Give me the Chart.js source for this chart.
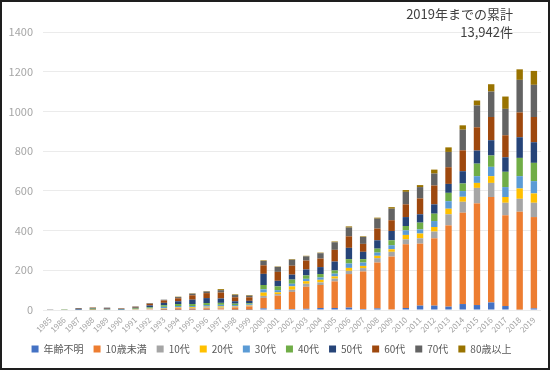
<!DOCTYPE html>
<html>
<head>
<meta charset="utf-8">
<script src="https://cdn.jsdelivr.net/npm/chart.js"></script>
<style>
    body { margin: 0; background: #fff; }
    #wrap {
        position: relative; width: 550px; height: 370px; box-sizing: border-box;
        border: 2px solid #1e1e1e; font-family: "Noto Sans CJK JP", sans-serif;
    }
    #total {
        position: absolute; right: 35px; top: 3px; text-align: right;
        font-size: 13px; line-height: 18px; color: #404040;
    }
    #ageChart { display: block; }
</style>
</head>
<body>
<div id="wrap">
    <canvas id="ageChart" width="546" height="366"></canvas>
    <div id="total">2019年までの累計<br>13,942件</div>
</div>
<script>
var years = [];
for (var y = 1985; y <= 2019; y++) { years.push(String(y)); }

var ageGroups = ["年齢不明", "10歳未満", "10代", "20代", "30代", "40代", "50代", "60代", "70代", "80歳以上"];
var groupColors = ["#4472C4", "#ED7D31", "#A5A5A5", "#FFC000", "#5B9BD5", "#70AD47", "#264478", "#9E480E", "#636363", "#997300"];

// 1985 ... 2019
var unknownAge = [0,0,0,0,0,0,0,0,1,1, 1,1,3,1,1,8,5,5,6,10, 10,12,5,8,3,10,22,22,17,30, 25,38,20,2,8];
var under10    = [0,0,0,1,0,0,2,4,4,8, 6,8,5,12,17,53,67,86,111,116, 134,169,189,231,266,321,312,339,409,460, 512,531,457,493,460];
var teens      = [0,0,0,0,1,0,1,2,2,3, 3,4,4,4,4,10,8,11,15,13, 14,16,17,22,24,25,27,34,56,55, 78,71,63,65,72];
var twenties   = [0,0,0,0,0,0,1,2,3,3, 4,4,6,3,3,17,9,17,13,13, 11,15,11,12,13,22,24,23,28,25, 25,34,29,52,47];
var thirties   = [0,0,1,1,1,1,1,3,6,5, 6,8,8,5,4,16,11,13,12,12, 14,22,17,16,20,23,21,30,38,29, 34,47,50,62,62];
var forties    = [0,1,0,5,2,1,3,4,8,10, 10,10,10,7,5,22,19,21,17,17, 16,22,17,20,25,22,34,37,42,38, 63,57,77,92,92];
var fifties    = [0,0,3,3,3,3,4,8,12,14, 22,25,22,12,12,56,28,25,30,35, 45,57,37,42,47,45,42,47,45,62, 66,77,73,104,104];
var sixties    = [0,0,2,2,3,2,4,8,12,15, 22,25,30,20,18,43,45,45,45,43, 59,58,40,59,54,64,80,95,84,105, 117,117,111,125,127];
var seventies  = [1,1,4,1,2,2,2,3,4,6, 8,8,12,12,8,22,25,30,21,27, 38,44,35,50,58,63,57,60,77,104, 110,128,133,164,162];
var over80     = [0,0,0,0,0,0,0,1,0,2, 2,2,5,3,3,3,2,3,3,3, 4,6,3,5,8,9,10,20,23,22, 25,37,62,53,70];

var seriesValues = [unknownAge, under10, teens, twenties, thirties, forties, fifties, sixties, seventies, over80];

var datasets = [];
for (var i = 0; i < ageGroups.length; i++) {
    datasets.push({
        label: ageGroups[i],
        data: seriesValues[i],
        backgroundColor: groupColors[i],
        borderWidth: 0,
        barPercentage: 0.9,
        categoryPercentage: 0.5
    });
}

Chart.defaults.font.family = '"Noto Sans CJK JP", sans-serif';

var ageChart = new Chart(document.getElementById("ageChart"), {
    type: "bar",
    data: { labels: years, datasets: datasets },
    options: {
        responsive: false,
        animation: false,
        layout: { padding: { top: 30, right: 7, left: 0, bottom: 4 } },
        plugins: {
            legend: {
                position: "bottom",
                labels: {
                    boxWidth: 7, boxHeight: 7, padding: 10,
                    color: "#595959", font: { size: 10 }
                }
            },
            tooltip: { enabled: false }
        },
        scales: {
            x: {
                stacked: true,
                grid: { display: false, drawTicks: false },
                border: { display: false },
                ticks: {
                    autoSkip: false, minRotation: 45, maxRotation: 45,
                    color: "#a0a0a0", font: { size: 8 }, padding: 5
                },
                afterFit: function(scale) { scale.height = 24; }
            },
            y: {
                stacked: true,
                min: 0, max: 1400,
                grid: { color: "#ebebeb", drawTicks: false },
                border: { display: false },
                ticks: {
                    stepSize: 200, color: "#a6a6a6", font: { size: 11 }, padding: 10,
                    callback: function(value) { return String(value); }
                },
                afterFit: function(scale) { scale.width = 41; }
            }
        }
    }
});
</script>
</body>
</html>
